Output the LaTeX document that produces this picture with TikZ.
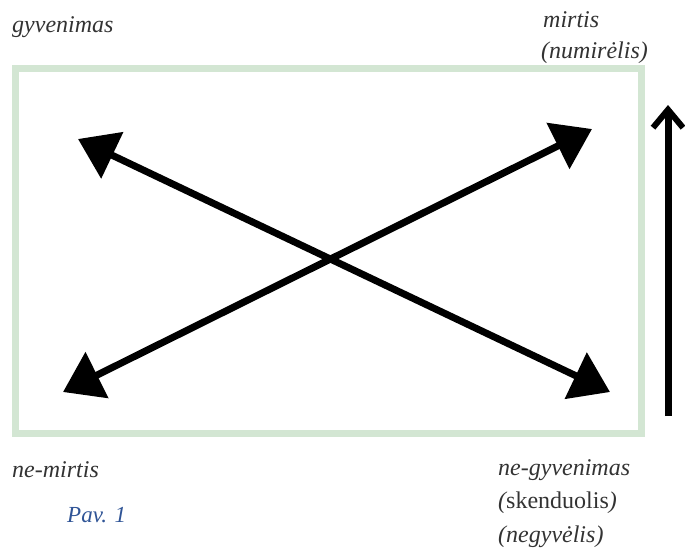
\documentclass[tikz,border=0pt]{standalone}
\usepackage{fontspec}
\setmainfont{Liberation Serif}
\usetikzlibrary{arrows.meta}
\definecolor{boxgreen}{HTML}{D3E6D3}
\definecolor{txtgray}{HTML}{333333}
\definecolor{capblue}{HTML}{2F5496}
\tikzset{
  lbl/.style={anchor=west, inner sep=0pt, text=txtgray, font=\fontsize{24}{33}\selectfont\itshape, align=left},
  diag/.style={line width=7pt, {Triangle[length=38pt,width=50pt]}-{Triangle[length=38pt,width=50pt]}},
  vert/.style={line width=7pt, -{Straight Barb[length=18pt,width=30pt,line width=6pt]}}
}
\begin{document}
\begin{tikzpicture}[x=1pt,y=-1pt]
\useasboundingbox (0,0) rectangle (685,550);
\draw[boxgreen, line width=7pt] (15.5,68.5) rectangle (641,433);
\coordinate (tl) at (78,139);
\coordinate (tr) at (592,129);
\coordinate (bl) at (63,392);
\coordinate (br) at (610,392);
\coordinate (vb) at (668,416);
\coordinate (vt) at (668,105);
\draw[diag] (tl) -- (br);
\draw[diag] (bl) -- (tr);
\draw[vert] (vb) -- (vt);
\node[lbl] (gy) at (12,27) {gyvenimas};
\node[lbl] (mi) at (543,20) {mirtis};
\node[lbl] (nu) at (541,53) {(numirėlis)};
\node[lbl] (nm) at (12,470) {ne-mirtis};
\node[lbl] (ng) at (498,470) {ne-gyvenimas};
\node[lbl] (sk) at (498,503) {(\upshape skenduolis\itshape)};
\node[lbl] (nv) at (498,537) {(negyvėlis)};
\node[lbl, text=capblue, font=\fontsize{23}{33}\selectfont\itshape] (pav) at (67,515) {Pav. 1};
\end{tikzpicture}
\end{document}
